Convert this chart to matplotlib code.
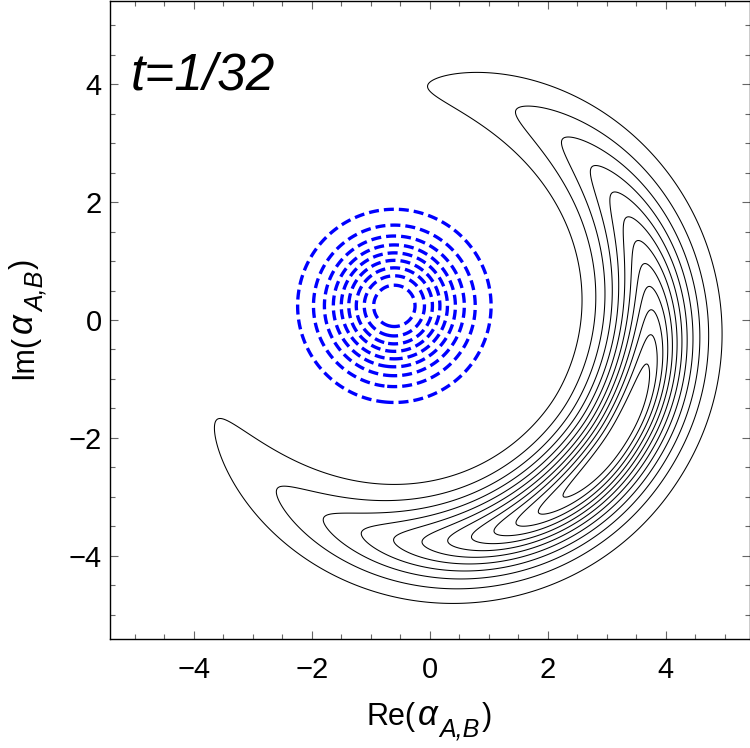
import numpy as np
import matplotlib
matplotlib.use('Agg')
import matplotlib.pyplot as plt
from matplotlib.ticker import MultipleLocator
from matplotlib.font_manager import FontProperties
from matplotlib.transforms import IdentityTransform

plt.rcParams['font.family'] = ['Liberation Sans', 'DejaVu Sans']
plt.rcParams['lines.dashed_pattern'] = [3.0, 1.5]

# ---------------- values ----------------
# black crescent: its ridge is a ring about the origin, symmetric about this angle
crescent_center_deg = -32.2
# half angular extent (deg) of contour k (k = 1 .. 12, outermost first), measured at its tips
tip_half_width_deg = [123.5, 99.3, 85.3, 75.5, 67.5, 59.9, 53.2, 47.3, 41.0, 34.7, 28.2, 20.8]
ridge_radius = 3.755           # radius of the ridge near the crescent centre
tip_radius = 3.97              # radius of the ridge at the outermost tips
radial_scale = 0.69            # radial fall-off length
radial_power = 1.6             # radial fall-off shape
n_black_levels = 12

# blue dashed rings
blue_center = (-0.6, 0.24)
blue_width = 0.764
n_blue_levels = 9

x_lim = (-5.42, 5.42)
y_lim = (-5.42, 5.42)
major_ticks = [-4, -2, 0, 2, 4]
major_labels = ['\u22124', '\u22122', '0', '2', '4']
minor_step = 0.5
panel_text = 't=1/32'

# ---------------- fields ----------------
g = np.linspace(x_lim[0], x_lim[1], 700)
X, Y = np.meshgrid(g, g)
R = np.hypot(X, Y)
TH = np.degrees(np.arctan2(Y, X))
D = (TH - crescent_center_deg + 180.0) % 360.0 - 180.0

levels_frac = np.arange(1, n_black_levels + 1) / (n_black_levels + 1)
w = np.array(tip_half_width_deg)
# smooth angular profile through the measured tip positions
coef = np.polyfit(np.log(w), np.log(-np.log(levels_frac)), 2)
absD = np.clip(np.abs(D), 1e-3, None)
A = np.exp(-np.exp(np.polyval(coef, np.log(absD))))
R0 = ridge_radius + (tip_radius - ridge_radius) * (np.abs(D) / w[0]) ** 4
eps = 0.15
dist = np.sqrt((R - R0) ** 2 + eps ** 2)
F = A * np.exp(-((dist / radial_scale) ** radial_power - (eps / radial_scale) ** radial_power))

G = np.exp(-((X - blue_center[0]) ** 2 + (Y - blue_center[1]) ** 2) / (2 * blue_width ** 2))
blue_levels = np.arange(1, n_blue_levels + 1) / (n_blue_levels + 1)

# ---------------- figure ----------------
W, H = 750, 748
fig = plt.figure(figsize=(W / 100, H / 100), dpi=100)
ax = fig.add_axes([110 / W, (H - 639.3) / H, 639.5 / W, 638.6 / H])
ax.contour(X, Y, F, levels=levels_frac, colors='black', linewidths=0.75)
ax.contour(X, Y, G, levels=blue_levels, colors='#0000ff', linewidths=2.4,
           linestyles='dashed')

ax.set_xlim(*x_lim)
ax.set_ylim(*y_lim)
ax.set_xticks(major_ticks)
ax.set_yticks(major_ticks)
ax.set_xticklabels(major_labels)
ax.set_yticklabels(major_labels)
ax.xaxis.set_minor_locator(MultipleLocator(minor_step))
ax.yaxis.set_minor_locator(MultipleLocator(minor_step))
ax.tick_params(which='both', direction='in', top=True, right=True,
               color='#666666', width=0.8, labelsize=21)
ax.tick_params(which='major', length=5.8)
ax.tick_params(which='minor', length=3.6)
ax.tick_params(axis='x', pad=12)
ax.tick_params(axis='y', pad=6)
for sp in ax.spines.values():
    sp.set_linewidth(1.0)

# ---------------- text ----------------
renderer = fig.canvas.get_renderer()


def compose(pieces, center, baseline, rotation=0):
    props = [FontProperties(family='Liberation Sans', size=p[1], style=p[2]) for p in pieces]
    widths = [renderer.get_text_width_height_descent(p[0], fp, ismath=False)[0] for p, fp in zip(pieces, props)]
    total = sum(widths) + sum(p[4] for p in pieces[:-1])
    pos = center - total / 2
    for p, fp, wd in zip(pieces, props, widths):
        s, size, style, drop, gap = p
        if rotation == 0:
            xy = (pos, baseline - drop)
        else:
            xy = (baseline + drop, pos)
        fig.text(xy[0], xy[1], s, fontproperties=fp, transform=IdentityTransform(),
                 ha='left', va='baseline', rotation=rotation, rotation_mode='anchor')
        pos += wd + gap


x_pieces = [('Re(', 22, 'normal', 0, 2), ('\u03b1', 25, 'italic', 0, 1),
            ('A,B', 18, 'italic', 12, 3), (')', 22, 'normal', 0, 0)]
y_pieces = [('Im(', 22, 'normal', 0, 2), ('\u03b1', 25, 'italic', 0, 1),
            ('A,B', 18, 'italic', 12, 3), (')', 22, 'normal', 0, 0)]
compose(x_pieces, center=429.5, baseline=H - 725)
compose(y_pieces, center=H - 319, baseline=32, rotation=90)

fig.text(131, H - 89.3, panel_text, fontsize=37, fontstyle='italic',
         transform=IdentityTransform(), ha='left', va='baseline')

fig.savefig('out.png', dpi=100)
